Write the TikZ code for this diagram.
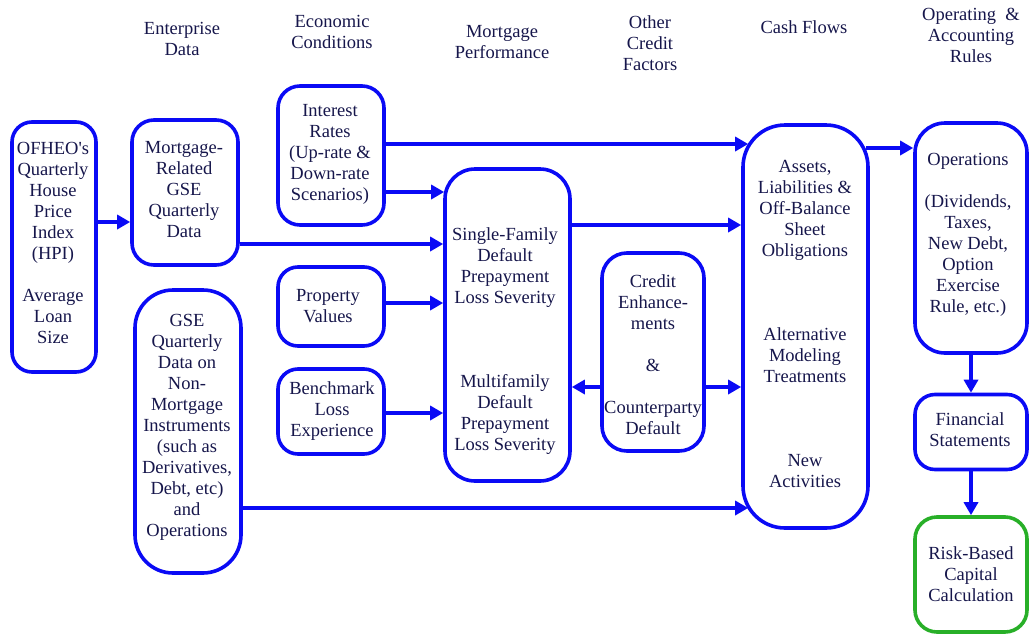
\documentclass[tikz,border=0pt]{standalone}
\usepackage{fontspec}
\setmainfont{Liberation Serif}
\newfontfamily\nomapfont[Ligatures=TeXOff]{Liberation Serif}
\usetikzlibrary{arrows.meta,calc}
\definecolor{bblue}{RGB}{10,10,245}
\definecolor{tnavy}{RGB}{22,22,75}
\definecolor{bgreen}{RGB}{40,175,40}
\tikzset{
  bx/.style={draw=bblue, line width=3.6pt, rounded corners=#1, rectangle, inner sep=0pt},
  bx/.default=20pt,
  txt/.style={text=tnavy, align=center, font=\fontsize{18.5}{21}\selectfont, inner sep=0pt},
  arr/.style={draw=bblue, line width=3.4pt, -{Triangle[length=13pt,width=14pt]}},
}
\begin{document}
\begin{tikzpicture}[x=1pt,y=-1pt]
\useasboundingbox (0,0) rectangle (1029,635);
% headers
\node[txt] (h1) at (182,38.5) {Enterprise\\Data};
\node[txt] (h2) at (332,32) {Economic\\Conditions};
\node[txt] (h3) at (502,42) {Mortgage\\Performance};
\node[txt] (h4) at (650,43.5) {Other\\Credit\\Factors};
\node[txt] (h5) at (804,27) {Cash Flows};
\node[txt] (h6) at (971,35.5) {Operating\ \ \&\\Accounting\\Rules};
% boxes
\node[bx=20pt, minimum width=84pt, minimum height=250pt] (ofheo) at (54,247) {};
\node[bx=22pt, minimum width=106pt, minimum height=145pt] (mrel) at (185,192.5) {};
\node[bx=22pt, minimum width=106pt, minimum height=139pt] (intr) at (331,155.5) {};
\node[bx=20pt, minimum width=106pt, minimum height=79pt] (prop) at (331,306.5) {};
\node[bx=20pt, minimum width=106pt, minimum height=85pt] (bench) at (331,411.5) {};
\node[bx=38pt, minimum width=106pt, minimum height=283pt] (gse) at (188,431.5) {};
\node[bx=30pt, minimum width=125pt, minimum height=312pt] (sf) at (507.5,325) {};
\node[bx=25pt, minimum width=102pt, minimum height=198pt] (cred) at (653,352) {};
\node[bx=42pt, minimum width=125pt, minimum height=403pt] (assets) at (805.5,326.5) {};
\node[bx=30pt, minimum width=112pt, minimum height=230pt] (ops) at (971,238) {};
\node[bx=20pt, minimum width=112pt, minimum height=75pt] (fin) at (971,432) {};
\node[bx=22pt, draw=bgreen, minimum width=112pt, minimum height=115pt] (rbc) at (971,574.5) {};
% texts
\node[txt] (tofheo) at (53,242.5) {OFHEO{\nomapfont'}s\\Quarterly\\House\\Price\\Index\\(HPI)\\[21pt]Average\\Loan\\Size};
\node[txt] (tmrel) at (184,190) {Mortgage-\\Related\\GSE\\Quarterly\\Data};
\node[txt] (tintr) at (330,154) {Interest\\Rates\\(Up-rate \&\\Down-rate\\Scenarios)};
\node[txt] (tprop) at (328,306) {Property\\Values};
\node[txt] (tbench) at (332,411) {Benchmark\\Loss\\Experience};
\node[txt] (tgse) at (187,427) {GSE\\Quarterly\\Data on\\Non-\\Mortgage\\Instruments\\(such as\\Derivatives,\\Debt, etc)\\and\\Operations};
\node[txt] (tsf) at (505,341) {Single-Family\\Default\\Prepayment\\Loss Severity\\[63pt]Multifamily\\Default\\Prepayment\\Loss Severity};
\node[txt] (tcred) at (653,354.5) {Credit\\Enhance-\\ments\\[21pt]\&\\[21pt]Counterparty\\Default};
\node[txt] (tassets) at (805,324) {Assets,\\Liabilities \&\\Off-Balance\\Sheet\\Obligations\\[63pt]Alternative\\Modeling\\Treatments\\[63pt]New\\Activities};
\node[txt] (tops) at (968,234.5) {Operations\\[21pt](Dividends,\\Taxes,\\New Debt,\\Option\\Exercise\\Rule, etc.)};
\node[txt] (tfin) at (970,430) {Financial\\Statements};
\node[txt] (trbc) at (971,574) {Risk-Based\\Capital\\Calculation};
% connectors
\draw[arr] (ofheo.east |- 0,222) -- (mrel.west |- 0,222);
\draw[arr] (intr.east |- 0,144) -- ($(assets.west |- 0,144)+(7,0)$);
\draw[arr] (intr.east |- 0,192) -- ($(sf.west |- 0,192)+(1,0)$);
\draw[arr] (mrel.east |- 0,244) -- (sf.west |- 0,244);
\draw[arr] (prop.east |- 0,303) -- (sf.west |- 0,303);
\draw[arr] (bench.east |- 0,413) -- (sf.west |- 0,413);
\draw[arr] (gse.east |- 0,508) -- ($(assets.west |- 0,508)+(7,0)$);
\draw[arr] (sf.east |- 0,225) -- (assets.west |- 0,225);
\draw[arr] (cred.west |- 0,387) -- (sf.east |- 0,387);
\draw[arr] (cred.east |- 0,387) -- (assets.west |- 0,387);
\draw[arr] ($(assets.east |- 0,148)+(-4,0)$) -- (ops.west |- 0,148);
\draw[arr] (ops.south) -- (fin.north);
\draw[arr] (fin.south) -- (rbc.north);
\end{tikzpicture}
\end{document}
